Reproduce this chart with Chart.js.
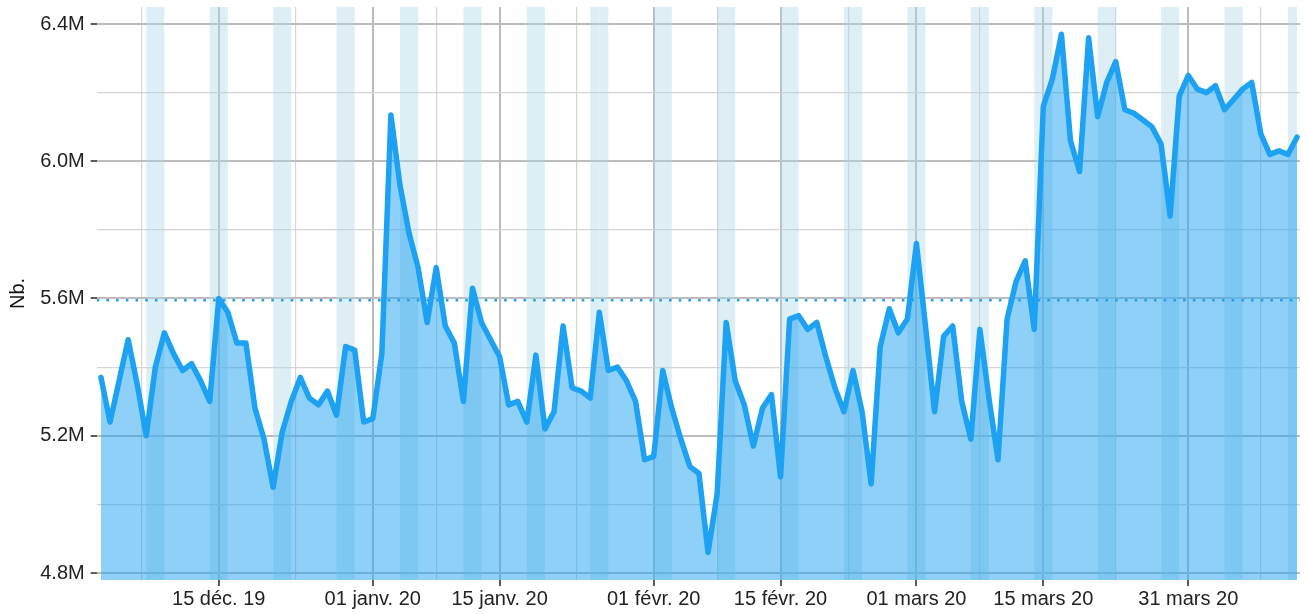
<!DOCTYPE html>
<html>
<head>
<meta charset="utf-8">
<script src="https://cdn.jsdelivr.net/npm/chart.js@4.4.1/dist/chart.umd.min.js"></script>
<style>
html,body{margin:0;padding:0;background:#ffffff;}
#wrap{width:1307px;height:614px;}
</style>
</head>
<body>
<div id="wrap"><canvas id="c" width="1307" height="614"></canvas></div>
<script>
// Daily values (millions), day 0 = 2 Dec 2019 ... day 132 = 12 Apr 2020
const values = [
  5.37, 5.24, 5.36, 5.48, 5.35, 5.20, 5.40, 5.50, 5.44, 5.39,
  5.41, 5.36, 5.30, 5.60, 5.56, 5.47, 5.47, 5.28, 5.19, 5.05,
  5.21, 5.30, 5.37, 5.31, 5.29, 5.33, 5.26, 5.46, 5.45, 5.24,
  5.25, 5.44, 6.135, 5.93, 5.79, 5.69, 5.53, 5.69, 5.52, 5.47,
  5.30, 5.63, 5.53, 5.48, 5.43, 5.29, 5.30, 5.24, 5.435, 5.22,
  5.27, 5.52, 5.34, 5.33, 5.31, 5.56, 5.39, 5.40, 5.36, 5.30,
  5.13, 5.14, 5.39, 5.28, 5.19, 5.11, 5.09, 4.86, 5.03, 5.53,
  5.36, 5.29, 5.17, 5.28, 5.32, 5.08, 5.54, 5.55, 5.51, 5.53,
  5.43, 5.34, 5.27, 5.39, 5.27, 5.06, 5.46, 5.57, 5.50, 5.54,
  5.76, 5.52, 5.27, 5.49, 5.52, 5.30, 5.19, 5.51, 5.31, 5.13,
  5.54, 5.65, 5.71, 5.51, 6.16, 6.24, 6.37, 6.06, 5.97, 6.36,
  6.13, 6.23, 6.29, 6.15, 6.14, 6.12, 6.10, 6.05, 5.84, 6.19,
  6.25, 6.21, 6.20, 6.22, 6.15, 6.18, 6.21, 6.23, 6.08, 6.02,
  6.03, 6.02, 6.07
];
const referenceLevel = 5.595;               // dotted horizontal line (millions)
const weekendDays = [5,6,12,13,19,20,26,27,33,34,40,41,47,48,54,55,61,62,68,69,
  75,76,82,83,89,90,96,97,103,104,110,111,117,118,124,125,131];
const xMajorDays = [13, 30, 44, 61, 75, 90, 104, 120];
const xMajorLabels = ['15 déc. 19','01 janv. 20','15 janv. 20','01 févr. 20','15 févr. 20','01 mars 20','15 mars 20','31 mars 20'];
const xMinorDays = [4.5, 21.5, 37, 52.5, 68, 82.5, 97, 112, 128];
const yMajorTicks = [4.8, 5.2, 5.6, 6.0, 6.4];
const yMajorLabels = ['4.8M','5.2M','5.6M','6.0M','6.4M'];
const yMinorTicks = [5.0, 5.4, 5.8, 6.2];

const X_MIN = -0.47, X_MAX = 132.33;
const Y_MIN = 4.7796, Y_MAX = 6.4495;

const FONT = "'Liberation Sans', Arial, Helvetica, sans-serif";

const isMajorX = v => xMajorDays.includes(v);
const isMajorY = v => yMajorTicks.some(t => Math.abs(t - v) < 1e-9);

const weekendPlugin = {
  id: 'weekendBands',
  beforeDatasetsDraw(chart) {
    const {ctx, chartArea: a, scales: {x}} = chart;
    ctx.save();
    ctx.beginPath();
    ctx.rect(a.left, a.top, a.right - a.left, a.bottom - a.top);
    ctx.clip();
    ctx.fillStyle = 'rgba(173,216,230,0.42)';
    weekendDays.forEach(d => {
      const x0 = x.getPixelForValue(d);
      const x1 = x.getPixelForValue(d + 1);
      ctx.fillRect(x0, a.top, x1 - x0, a.bottom - a.top);
    });
    ctx.restore();
  }
};

new Chart(document.getElementById('c').getContext('2d'), {
  type: 'line',
  data: {
    datasets: [
      {
        data: values.map((v, i) => ({x: i, y: v})),
        borderColor: '#1DA1F2',
        backgroundColor: 'rgba(29,161,242,0.5)',
        borderWidth: 5.5,
        fill: 'start',
        pointRadius: 0,
        tension: 0,
        borderJoinStyle: 'round',
        borderCapStyle: 'round'
      },
      {
        data: [{x: X_MIN, y: referenceLevel}, {x: X_MAX, y: referenceLevel}],
        borderColor: '#1DA1F2',
        borderWidth: 2.6,
        borderDash: [2.6, 7.1],
        fill: false,
        pointRadius: 0
      }
    ]
  },
  options: {
    responsive: false,
    animation: false,
    devicePixelRatio: 1,
    layout: {padding: {top: 7, right: 7, left: 0, bottom: 0}},
    plugins: {legend: {display: false}, tooltip: {enabled: false}},
    scales: {
      x: {
        type: 'linear',
        min: X_MIN,
        max: X_MAX,
        border: {display: false},
        afterBuildTicks(s) {
          s.ticks = xMinorDays.concat(xMajorDays).sort((a, b) => a - b).map(v => ({value: v}));
        },
        afterFit(s) { s.height = 34; s.paddingLeft = 0; s.paddingRight = 0; },
        grid: {
          color: c => isMajorX(c.tick.value) ? '#bcbcbc' : '#d4d4d4',
          lineWidth: c => isMajorX(c.tick.value) ? 2 : 1.2,
          drawTicks: true,
          tickLength: 6,
          tickColor: c => isMajorX(c.tick.value) ? '#333333' : 'rgba(0,0,0,0)',
          tickWidth: 1.6
        },
        ticks: {
          autoSkip: false,
          maxRotation: 0,
          padding: 1,
          color: '#222222',
          font: {family: FONT, size: 20},
          callback: v => { const i = xMajorDays.indexOf(v); return i >= 0 ? xMajorLabels[i] : ''; }
        }
      },
      y: {
        type: 'linear',
        min: Y_MIN,
        max: Y_MAX,
        border: {display: false},
        afterBuildTicks(s) {
          s.ticks = yMajorTicks.concat(yMinorTicks).sort((a, b) => a - b).map(v => ({value: v}));
        },
        afterFit(s) { s.width = 96.7; s.paddingTop = 0; s.paddingBottom = 0; },
        grid: {
          color: c => isMajorY(c.tick.value) ? '#bcbcbc' : '#d4d4d4',
          lineWidth: c => isMajorY(c.tick.value) ? 2 : 1.2,
          drawTicks: true,
          tickLength: 6,
          tickColor: c => isMajorY(c.tick.value) ? '#333333' : 'rgba(0,0,0,0)',
          tickWidth: 1.6
        },
        ticks: {
          padding: 6,
          color: '#222222',
          font: {family: FONT, size: 20},
          callback: v => { const i = yMajorTicks.findIndex(t => Math.abs(t - v) < 1e-9); return i >= 0 ? yMajorLabels[i] : ''; }
        },
        title: {
          display: true,
          text: 'Nb.',
          color: '#111111',
          font: {family: FONT, size: 20},
          padding: {top: 6, bottom: 0}
        }
      }
    }
  },
  plugins: [weekendPlugin]
});
</script>
</body>
</html>
